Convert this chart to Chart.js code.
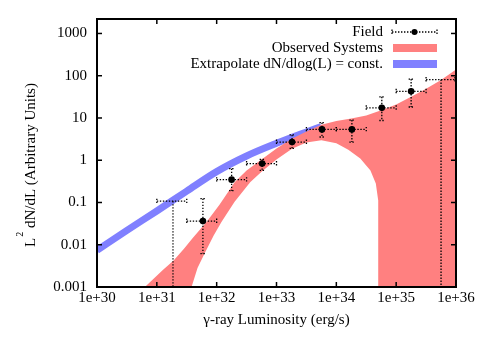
<!DOCTYPE html>
<html>
<head>
<meta charset="utf-8">
<script src="https://cdn.jsdelivr.net/npm/chart.js@4"></script>
<style>
  html, body { margin: 0; padding: 0; background: #fff; }
  #wrap { width: 485px; height: 339px; }
</style>
</head>
<body>
<div id="wrap"><canvas id="lumChart"></canvas></div>
<script>
// values are log10 exponents
const xTickExps = [30, 31, 32, 33, 34, 35, 36];
const yTickExps = [-3, -2, -1, 0, 1, 2, 3];
const yTickLabels = ['0.001', '0.01', '0.1', '1', '10', '100', '1000'];

// Field points with bin widths and errors
const fieldLogL  = [31.77, 32.25, 32.76, 33.26, 33.76, 34.26, 34.76, 35.25];
const fieldLogY  = [-1.44, -0.46, -0.08, 0.43, 0.73, 0.73, 1.24, 1.63];
const fieldBinLo = [31.5, 32.0, 32.5, 33.0, 33.5, 34.0, 34.5, 35.0];
const fieldBinHi = [32.0, 32.5, 33.0, 33.5, 34.0, 34.5, 35.0, 35.5];
const fieldErrHi = [-0.91, -0.2, 0.02, 0.6, 0.89, 0.95, 1.5, 1.92];
const fieldErrLo = [-2.21, -0.72, -0.24, 0.28, 0.55, 0.43, 0.94, 1.26];

// Field upper limits (bar + drop line to the axis)
const limitLogL  = [31.27, 35.75];
const limitLogY  = [-0.97, 1.91];
const limitBinLo = [31.0, 35.5];
const limitBinHi = [31.5, 36.0];

// Observed Systems band edges
const bandUpperL = [30.8, 31.1, 31.28, 31.45, 31.6, 31.83, 32.05, 32.3, 32.5, 32.75, 33.0, 33.25, 33.5, 33.75, 34.0, 34.25, 34.5, 34.75, 35.0, 35.25, 35.5, 35.75, 36.0];
const bandUpperY = [-3.0, -2.6, -2.37, -2.1, -1.84, -1.46, -1.05, -0.52, -0.24, 0.02, 0.28, 0.5, 0.68, 0.84, 0.93, 0.99, 1.06, 1.18, 1.32, 1.5, 1.69, 1.9, 2.15];
const bandLowerL = [31.58, 31.68, 31.8, 31.95, 32.08, 32.3, 32.56, 32.75, 33.0, 33.26, 33.5, 33.75, 34.0, 34.2, 34.4, 34.57, 34.66, 34.7, 34.7, 36.0];
const bandLowerY = [-3.0, -2.55, -2.2, -1.78, -1.46, -0.98, -0.52, -0.27, 0.02, 0.27, 0.42, 0.47, 0.4, 0.25, 0.04, -0.24, -0.55, -0.95, -3.0, -3.0];

// Extrapolate dN/dlog(L) = const.
const extrapL = [30, 30.5, 31, 31.5, 32, 32.5, 33, 33.5, 33.75];
const extrapY = [-2.13, -1.66, -1.2, -0.73, -0.27, 0.1, 0.4, 0.67, 0.8];

const FONT = '"Liberation Serif", "Times New Roman", serif';
const RED = '#ff8080';
const BLUE = '#8080ff';

const pt = (lx, ly) => ({ x: 10 ** lx, y: 10 ** ly });

// band polygon: upper edge left->right, lower edge right->left
const bandPoly = bandUpperL.map((l, i) => pt(l, bandUpperY[i]));
for (let i = bandLowerL.length - 1; i >= 0; i--) bandPoly.push(pt(bandLowerL[i], bandLowerY[i]));

function seg(ctx, x1, y1, x2, y2) {
    ctx.beginPath();
    ctx.moveTo(x1, y1);
    ctx.lineTo(x2, y2);
    ctx.stroke();
}

function hBar(ctx, x1, x2, y) {
    seg(ctx, x1, y, x2, y);
    seg(ctx, x1, y - 2.5, x1, y + 2.5);
    seg(ctx, x2, y - 2.5, x2, y + 2.5);
}

function vBar(ctx, x, y1, y2) {
    seg(ctx, x, y1, x, y2);
    seg(ctx, x - 2.5, y1, x + 2.5, y1);
    seg(ctx, x - 2.5, y2, x + 2.5, y2);
}

const decorPlugin = {
    id: 'decor',
    afterDatasetsDraw(chart) {
        const { ctx, scales: { x, y }, chartArea: a } = chart;
        const px = (l) => x.getPixelForValue(10 ** l);
        const py = (l) => y.getPixelForValue(10 ** l);
        ctx.save();
        ctx.strokeStyle = '#000';
        ctx.lineWidth = 1.3;
        ctx.setLineDash([1.4, 1.6]);
        fieldLogL.forEach((l, i) => {
            hBar(ctx, px(fieldBinLo[i]), px(fieldBinHi[i]), py(fieldLogY[i]));
            vBar(ctx, px(l), py(fieldErrHi[i]), py(fieldErrLo[i]));
        });
        limitLogL.forEach((l, i) => {
            const yy = py(limitLogY[i]);
            hBar(ctx, px(limitBinLo[i]), Math.min(px(limitBinHi[i]), a.right - 1), yy);
            seg(ctx, px(l), yy, px(l), a.bottom);
        });
        ctx.restore();
    },
    afterDraw(chart) {
        const { ctx, scales: { x, y }, chartArea: a } = chart;
        ctx.save();
        // frame + inward ticks on all sides
        ctx.strokeStyle = '#000';
        ctx.lineWidth = 2;
        ctx.strokeRect(a.left, a.top, a.right - a.left, a.bottom - a.top);
        ctx.lineWidth = 1.5;
        xTickExps.forEach(e => {
            const p = x.getPixelForValue(10 ** e);
            seg(ctx, p, a.bottom, p, a.bottom - 5);
            seg(ctx, p, a.top, p, a.top + 5);
        });
        yTickExps.forEach(e => {
            const p = y.getPixelForValue(10 ** e);
            seg(ctx, a.left, p, a.left + 5, p);
            seg(ctx, a.right, p, a.right - 5, p);
        });

        // legend (text right-aligned, sample on the right)
        const ds = chart.data.datasets;
        const textX = 383, sx1 = 392, sx2 = 437;
        ctx.font = '15px ' + FONT;
        ctx.fillStyle = '#000';
        ctx.textAlign = 'right';
        ctx.textBaseline = 'middle';
        ctx.fillText(ds[0].label, textX, 32);
        ctx.fillText(ds[2].label, textX, 48);
        ctx.fillText(ds[3].label, textX, 64);
        ctx.lineWidth = 1.3;
        ctx.setLineDash([1.4, 1.6]);
        hBar(ctx, sx1, sx2, 32);
        ctx.setLineDash([]);
        ctx.beginPath();
        ctx.arc((sx1 + sx2) / 2, 32, 3, 0, Math.PI * 2);
        ctx.fill();
        ctx.fillStyle = RED;
        ctx.fillRect(sx1 + 1, 44, sx2 - sx1 - 1, 8);
        ctx.fillStyle = BLUE;
        ctx.fillRect(sx1 + 1, 60, sx2 - sx1 - 1, 8);

        // y axis title with superscript
        ctx.fillStyle = '#000';
        ctx.translate(35, 247);
        ctx.rotate(-Math.PI / 2);
        ctx.textAlign = 'left';
        ctx.textBaseline = 'alphabetic';
        ctx.font = '15px ' + FONT;
        ctx.fillText('L', 0, 0);
        let w = ctx.measureText('L').width;
        ctx.font = '10px ' + FONT;
        ctx.fillText('2', w + 1, -12);
        w += ctx.measureText('2').width + 1;
        ctx.font = '15px ' + FONT;
        ctx.fillText(' dN/dL (Arbitrary Units)', w, 0);
        ctx.restore();
    }
};

new Chart(document.getElementById('lumChart'), {
    type: 'line',
    data: {
        datasets: [
            {
                label: 'Field',
                data: fieldLogL.map((l, i) => pt(l, fieldLogY[i])),
                showLine: false,
                pointRadius: 3.3,
                pointBackgroundColor: '#000',
                pointBorderWidth: 0,
                order: 0
            },
            {
                label: 'Field limits',
                data: limitLogL.map((l, i) => pt(l, limitLogY[i])),
                showLine: false,
                pointRadius: 0,
                order: 0
            },
            {
                label: 'Observed Systems',
                data: bandPoly,
                fill: 'shape',
                backgroundColor: RED,
                borderWidth: 0,
                pointRadius: 0,
                tension: 0,
                order: 1
            },
            {
                label: 'Extrapolate dN/dlog(L) = const.',
                data: extrapL.map((l, i) => pt(l, extrapY[i])),
                borderColor: BLUE,
                borderWidth: 7,
                borderCapStyle: 'butt',
                pointRadius: 0,
                fill: false,
                cubicInterpolationMode: 'monotone',
                clip: 0,
                order: 2
            }
        ]
    },
    options: {
        responsive: true,
        maintainAspectRatio: false,
        animation: false,
        events: [],
        layout: { padding: { top: 18, right: 29, left: 0, bottom: 0 } },
        plugins: {
            legend: { display: false },
            tooltip: { enabled: false }
        },
        scales: {
            x: {
                type: 'logarithmic',
                min: 1e30,
                max: 1e36,
                afterBuildTicks: (s) => { s.ticks = xTickExps.map(e => ({ value: 10 ** e })); },
                afterFit: (s) => { s.height = 52; },
                grid: { display: false, drawTicks: false },
                border: { display: false },
                ticks: {
                    autoSkip: false,
                    maxRotation: 0,
                    padding: 4,
                    color: '#000',
                    font: { family: FONT, size: 15, lineHeight: 1 },
                    callback: (v) => '1e+' + Math.round(Math.log10(v))
                },
                title: {
                    display: true,
                    text: 'γ-ray Luminosity (erg/s)',
                    color: '#000',
                    font: { family: FONT, size: 15 },
                    padding: { top: 0, bottom: 10 }
                }
            },
            y: {
                type: 'logarithmic',
                min: 0.001,
                max: 2200,
                afterBuildTicks: (s) => { s.ticks = yTickExps.map(e => ({ value: 10 ** e })); },
                afterFit: (s) => { s.width = 97; },
                grid: { display: false, drawTicks: false },
                border: { display: false },
                ticks: {
                    autoSkip: false,
                    padding: 10,
                    color: '#000',
                    font: { family: FONT, size: 15 },
                    callback: (v, i) => yTickLabels[i]
                }
            }
        }
    },
    plugins: [decorPlugin]
});
</script>
</body>
</html>
